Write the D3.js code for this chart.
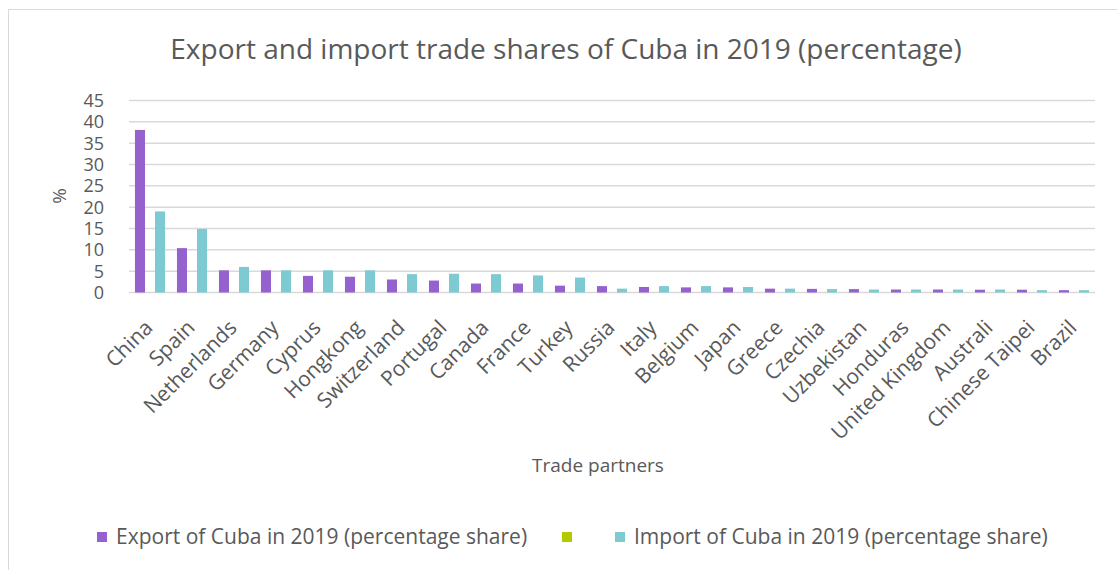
<!DOCTYPE html>
<html lang="en">
<head>
    <meta charset="UTF-8">
    <script src="https://d3js.org/d3.v7.min.js"></script>
    <title>Cuba trade shares 2019</title>
    <style>
        body { margin: 0; background: #fff; }
        text { font-family: "Open Sans", sans-serif; fill: #595959; }
    </style>
</head>
<body>
    <svg id="chart" width="1117" height="570"></svg>

    <script>
        const partners = ["China", "Spain", "Netherlands", "Germany", "Cyprus", "Hongkong", "Switzerland",
            "Portugal", "Canada", "France", "Turkey", "Russia", "Italy", "Belgium", "Japan", "Greece",
            "Czechia", "Uzbekistan", "Honduras", "United Kingdom", "Australi", "Chinese Taipei", "Brazil"];

        const exportShare = [38.1, 10.4, 5.2, 5.2, 3.9, 3.7, 3.05, 2.8, 2.1, 2.1, 1.6, 1.5, 1.3, 1.2, 1.2, 0.9,
            0.85, 0.8, 0.7, 0.7, 0.65, 0.65, 0.55];
        const importShare = [19.0, 14.9, 6.0, 5.2, 5.2, 5.2, 4.3, 4.4, 4.3, 4.0, 3.5, 0.9, 1.5, 1.5, 1.3, 0.9,
            0.8, 0.7, 0.7, 0.7, 0.7, 0.55, 0.55];
        // third series appears only in the legend
        const emptySeries = partners.map(() => null);

        const seriesNames = ["Export of Cuba in 2019 (percentage share)", "",
            "Import of Cuba in 2019 (percentage share)"];
        const seriesValues = [exportShare, emptySeries, importShare];
        const colors = ["#9561cf", "#b3c800", "#7dcad3"];

        const yTicks = [0, 5, 10, 15, 20, 25, 30, 35, 40, 45];

        const svg = d3.select("#chart");

        // outer chart border
        svg.append("rect")
            .attr("x", 8.5).attr("y", 9.5)
            .attr("width", 1200).attr("height", 700)
            .attr("fill", "none").attr("stroke", "#d9d9d9");

        const plotLeft = 129, plotRight = 1095, plotTop = 100.5, plotBottom = 292.5;

        const x0 = d3.scaleBand()
            .domain(partners)
            .range([plotLeft, plotRight])
            .paddingInner(0.284)
            .paddingOuter(0.142);

        const x1 = d3.scaleBand()
            .domain(d3.range(3))
            .range([0, x0.bandwidth()]);

        const y = d3.scaleLinear()
            .domain([0, 45])
            .range([plotBottom, plotTop]);

        // gridlines
        svg.append("g")
            .selectAll("line")
            .data(yTicks)
            .join("line")
            .attr("x1", plotLeft).attr("x2", plotRight)
            .attr("y1", d => y(d)).attr("y2", d => y(d))
            .attr("stroke", "#d9d9d9")
            .attr("stroke-width", 1.5);

        // y tick labels
        svg.append("g")
            .selectAll("text")
            .data(yTicks)
            .join("text")
            .attr("x", 104)
            .attr("y", d => y(d))
            .attr("dy", "0.36em")
            .attr("text-anchor", "end")
            .style("font-size", "18px")
            .text(d => d);

        // bars
        seriesValues.forEach((vals, s) => {
            svg.append("g")
                .selectAll("rect")
                .data(partners.map((p, i) => ({ p: p, v: vals[i] })).filter(d => d.v != null))
                .join("rect")
                .attr("x", d => x0(d.p) + x1(s))
                .attr("y", d => y(d.v))
                .attr("width", x1.bandwidth())
                .attr("height", d => plotBottom - y(d.v))
                .attr("fill", colors[s]);
        });

        // x labels, rotated; top-right corner of the text sits under the category
        svg.append("g")
            .selectAll("text")
            .data(partners)
            .join("text")
            .attr("transform", d => `translate(${x0(d) + x0.bandwidth() / 2 - 7},${318}) rotate(-45)`)
            .attr("dy", "0.74em")
            .attr("text-anchor", "end")
            .style("font-size", "21px")
            .text(d => d);

        // title
        svg.append("text")
            .attr("x", 566)
            .attr("y", 59)
            .attr("text-anchor", "middle")
            .style("font-size", "28px")
            .text("Export and import trade shares of Cuba in 2019 (percentage)");

        // axis titles
        svg.append("text")
            .attr("transform", "translate(66,196) rotate(-90)")
            .attr("text-anchor", "middle")
            .style("font-size", "19px")
            .text("%");

        svg.append("text")
            .attr("x", 598)
            .attr("y", 472)
            .attr("text-anchor", "middle")
            .style("font-size", "19px")
            .text("Trade partners");

        // legend
        const legendX = [97, 562, 615];
        const legend = svg.append("g");
        seriesNames.forEach((name, s) => {
            legend.append("rect")
                .attr("x", legendX[s]).attr("y", 532)
                .attr("width", 10).attr("height", 10)
                .attr("fill", colors[s]);
            if (name) {
                legend.append("text")
                    .attr("x", legendX[s] + 19)
                    .attr("y", 537)
                    .attr("dy", "0.35em")
                    .style("font-size", "21px")
                    .text(name);
            }
        });
    </script>
</body>
</html>
